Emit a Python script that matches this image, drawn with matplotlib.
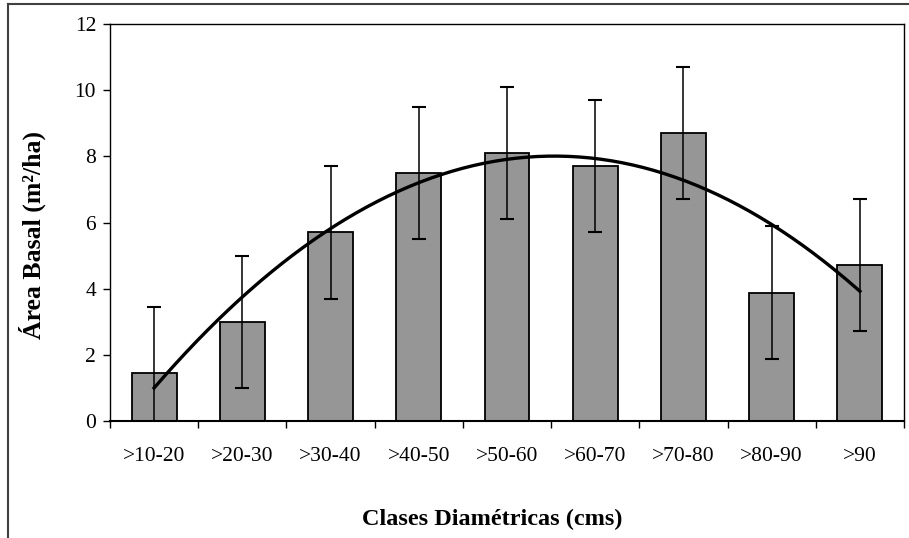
import numpy as np
import matplotlib
matplotlib.use("Agg")
from matplotlib import pyplot as plt
from matplotlib.lines import Line2D

# Basal area per diameter class
clases = [">10-20", ">20-30", ">30-40", ">40-50", ">50-60", ">60-70", ">70-80", ">80-90", ">90"]
area_basal = [1.45, 3.0, 5.7, 7.5, 8.1, 7.7, 8.7, 3.88, 4.72]
error = [2, 2, 2, 2, 2, 2, 2, 2, 2]

plt.rcParams['font.family'] = ['Liberation Serif', 'DejaVu Serif']

fig = plt.figure(figsize=(9.09, 5.38), dpi=100)
ax = fig.add_axes([110 / 909, 1 - 421 / 538, 794 / 909, 397 / 538])

x = np.arange(len(clases))
ax.bar(x, area_basal, width=0.51, color='#969696', edgecolor='black', linewidth=1.3, zorder=2)
ax.errorbar(x, area_basal, yerr=error, fmt='none', ecolor='black', elinewidth=1.1,
            capsize=5, capthick=1.5, zorder=3)

# 2nd order polynomial trend line
coef = np.polyfit(x, area_basal, 2)
xs = np.linspace(x[0], x[-1], 200)
ax.plot(xs, np.polyval(coef, xs), color='black', linewidth=2.4, zorder=4)

ax.set_xlim(-0.5, len(clases) - 0.5)
ax.set_ylim(0, 12)
ax.set_yticks(range(0, 13, 2))
ax.set_xticks(x)
ax.set_xticklabels(clases)
ax.set_xticks(np.arange(-0.5, len(clases), 1), minor=True)
ax.tick_params(axis='x', which='major', length=0, pad=19, labelsize=15.5)
ax.tick_params(axis='x', which='minor', length=5, width=1, direction='out')
ax.tick_params(axis='y', length=5, width=1, direction='out', labelsize=15.5, pad=5)
for side in ['top', 'right', 'left']:
    ax.spines[side].set_linewidth(1.0)
ax.spines['bottom'].set_linewidth(1.5)

fig.text(492 / 909, 1 - 519 / 538, "Clases Diamétricas (cms)", ha='center', va='center',
         fontsize=17.5, fontweight='bold')
fig.text(32 / 909, 1 - 235 / 538, "Área Basal (m²/ha)", ha='center', va='center',
         rotation=90, fontsize=18.5, fontweight='bold')

# outer chart frame
fig.add_artist(Line2D([8 / 909, 1], [1 - 4 / 538, 1 - 4 / 538], color='#404040', linewidth=1.5))
fig.add_artist(Line2D([8 / 909, 8 / 909], [0, 1 - 4 / 538], color='#404040', linewidth=1.5))

plt.savefig('out.png', dpi=100)
